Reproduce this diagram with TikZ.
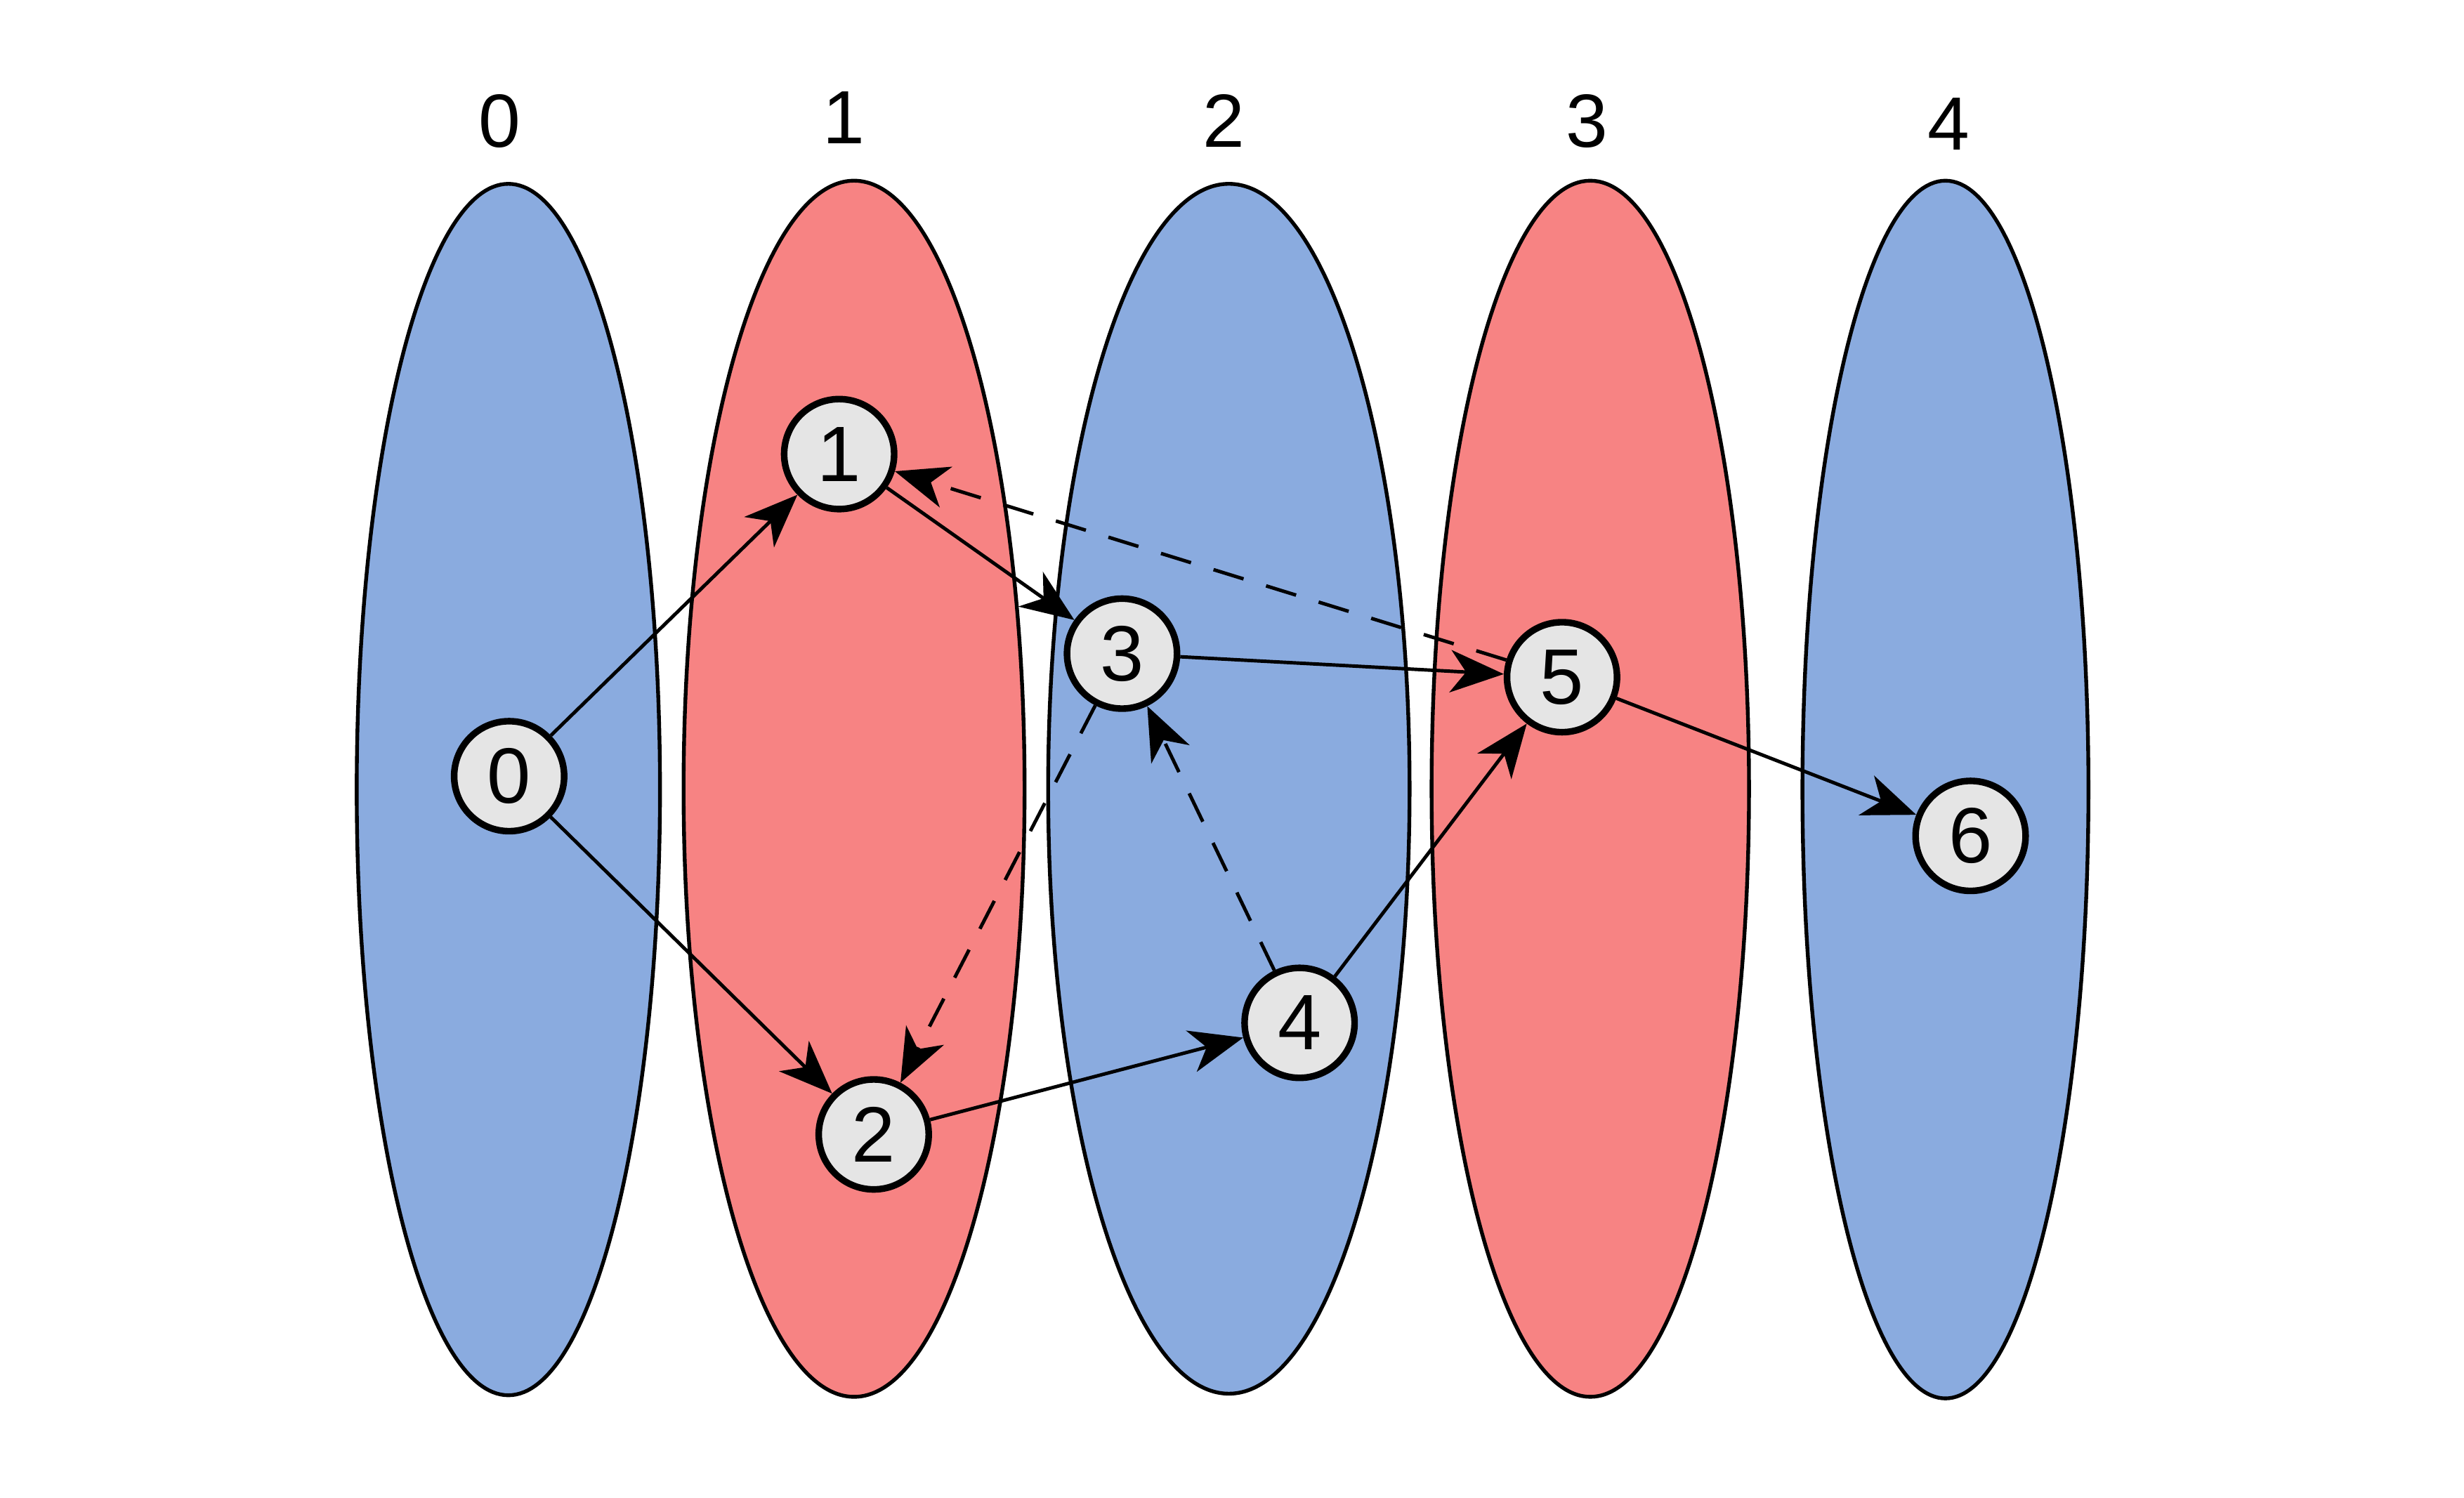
\documentclass[tikz,border=0pt]{standalone}
\usepackage{fontspec}
\setmainfont{Liberation Sans}
\usetikzlibrary{arrows.meta}
\definecolor{layblue}{RGB}{138,171,223}
\definecolor{layred}{RGB}{247,131,131}
\definecolor{nodegray}{RGB}{229,229,229}
\pgfdeclarelayer{bg}
\pgfdeclarelayer{edges}
\pgfsetlayers{bg,edges,main}
\begin{document}
\begin{tikzpicture}[x=1pt,y=-1pt,
  layer/.style={draw=black,line width=2.4pt},
  vtx/.style={circle,draw=black,fill=nodegray,line width=4.2pt,minimum size=70pt,inner sep=0pt,font=\fontsize{50}{50}\selectfont},
  toplabel/.style={font=\fontsize{48}{48}\selectfont,inner sep=0pt},
  edge/.style={line width=2.2pt,-{Stealth[length=34pt,width=27pt,inset=10pt]}},
  back/.style={edge,dash pattern=on 20pt off 15pt}]
\useasboundingbox (0,0) rectangle (1568,953);
% vertices
\node[vtx] (n0) at (324,494) {0};
\node[vtx] (n1) at (534,289) {1};
\node[vtx] (n2) at (556,722) {2};
\node[vtx] (n3) at (714,416) {3};
\node[vtx] (n4) at (827,651) {4};
\node[vtx] (n5) at (994,431) {5};
\node[vtx] (n6) at (1254,532) {6};
% layer labels
\node[toplabel] (l0) at (318,77) {0};
\node[toplabel] (l1) at (537,75) {1};
\node[toplabel] (l2) at (779,77) {2};
\node[toplabel] (l3) at (1010,77) {3};
\node[toplabel] (l4) at (1240,79) {4};
\begin{pgfonlayer}{bg}
\fill[white] (0,0) rectangle (1568,953);
\draw[layer,fill=layblue] (323.5,502.5) ellipse [x radius=96.5, y radius=385.5];
\draw[layer,fill=layred] (543.5,502) ellipse [x radius=108.5, y radius=387];
\draw[layer,fill=layblue] (782,502) ellipse [x radius=115, y radius=385];
\draw[layer,fill=layred] (1012,502) ellipse [x radius=101, y radius=387];
\draw[layer,fill=layblue] (1238,502.5) ellipse [x radius=91, y radius=387.5];
\end{pgfonlayer}
\begin{pgfonlayer}{edges}
\draw[edge] (n0) -- (n1);
\draw[edge] (n0) -- (n2);
\draw[edge] (n1) -- (n3);
\draw[edge] (n3) -- (n5);
\draw[edge] (n2) -- (n4);
\draw[edge] (n4) -- (n5);
\draw[edge] (n5) -- (n6);
\draw[back] (n5) -- (n1);
\draw[back] (n3) -- (n2);
\draw[back] (n4) -- (n3);
\end{pgfonlayer}
\end{tikzpicture}
\end{document}
